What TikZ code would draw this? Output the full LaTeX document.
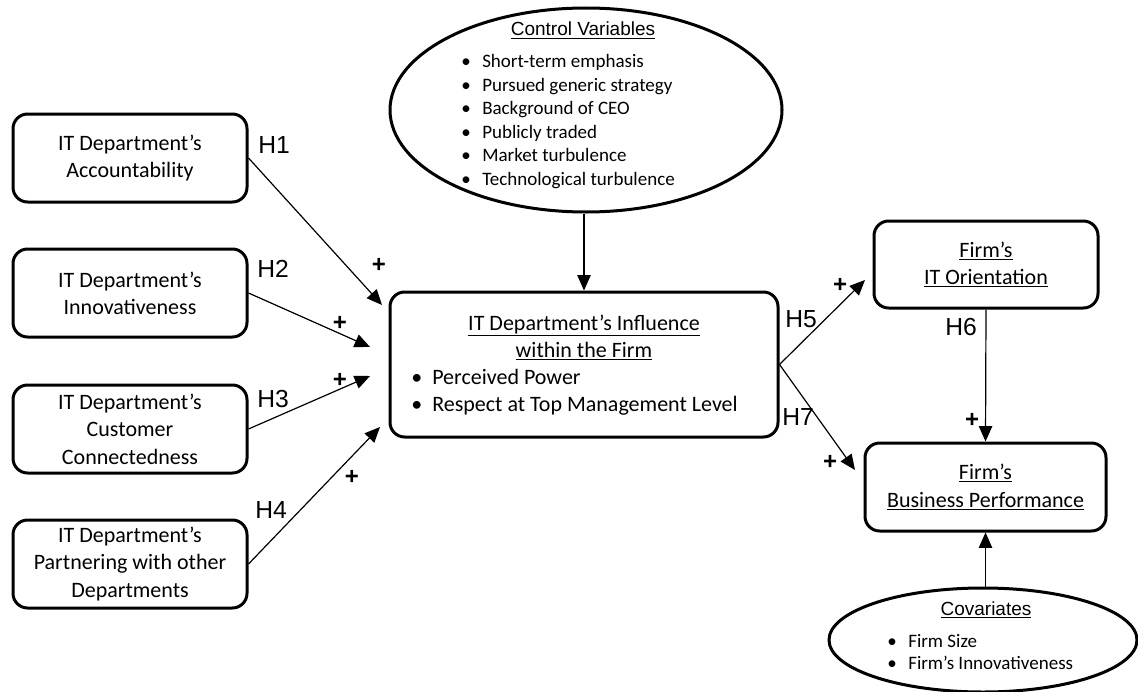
\documentclass[tikz,border=0pt]{standalone}
\usepackage{fontspec}
\setmainfont{Carlito}
\newfontfamily\arialfam{Liberation Sans}
\usetikzlibrary{shapes.geometric,arrows.meta}

% font sizes (one unit of the picture = 0.75pt)
\newcommand\cfBox{\fontsize{16.5pt}{20.5pt}\selectfont}
\newcommand\cfItem{\fontsize{14.25pt}{17.5pt}\selectfont}
\newcommand\cfHead{\arialfam\fontsize{14.25pt}{17.5pt}\selectfont}
\newcommand\cfH{\arialfam\fontsize{18.5pt}{22pt}\selectfont}
\newcommand\cfPlus{\arialfam\bfseries\fontsize{18pt}{22pt}\selectfont}

\begin{document}
\begin{tikzpicture}[x=0.75pt,y=-0.75pt,
  box/.style={draw, line width=2.25pt, rounded corners=11pt, align=center,
              font=\cfBox, inner sep=0pt},
  oval/.style={draw, ellipse, line width=2.25pt, inner sep=0pt},
  arr/.style={line width=0.9pt, -{Triangle[length=11.5pt,width=10pt]}},
  hlab/.style={font=\cfH, anchor=base west, inner sep=0pt},
  pluslab/.style={font=\cfPlus, inner sep=0pt},
  txt/.style={font=\cfBox, inner sep=0pt},
  itm/.style={font=\cfItem, anchor=base west, inner sep=0pt},
  head/.style={font=\cfHead, anchor=base, inner sep=0pt}]

\useasboundingbox (0,0) rectangle (1138,692);

% antecedents
\node[box, minimum width=175.5pt, minimum height=66pt] (acc) at (130,158)
  {IT Department’s\\Accountability};
\node[box, minimum width=175.5pt, minimum height=66pt] (inn) at (130,293)
  {IT Department’s\\Innovativeness};
\node[box, minimum width=175.5pt, minimum height=66pt] (cus) at (130,429)
  {IT Department’s\\Customer\\Connectedness};
\node[box, minimum width=175.5pt, minimum height=66pt] (par) at (130,564)
  {IT Department’s\\Partnering with other\\Departments};

% central construct
\node[box, minimum width=291pt, minimum height=108.75pt] (infl) at (584,364.5) {};
\node[txt, anchor=base] (inflA) at (584,330) {\underline{IT Department’s Influence}};
\node[txt, anchor=base] (inflB) at (584,357.5) {\underline{within the Firm}};
\node[txt, anchor=base west] (inflC) at (411,384) {•};
\node[txt, anchor=base west] (inflD) at (432,384) {Perceived Power};
\node[txt, anchor=base west] (inflE) at (411,411.5) {•};
\node[txt, anchor=base west] (inflF) at (432,411.5) {Respect at Top Management Level};

% outcomes
\node[box, minimum width=168pt, minimum height=65.25pt] (itor) at (986,264.5)
  {\underline{Firm’s}\\\underline{IT Orientation}};
\node[box, minimum width=180.75pt, minimum height=66pt] (bp) at (985.5,487)
  {\underline{Firm’s}\\\underline{Business Performance}};

% control variables
\node[oval, minimum width=294pt, minimum height=153pt] (ctrl) at (586,110) {};
\node[head] (ctrlT) at (583,36) {\underline{Control Variables}};
\foreach \t [count=\i] in {Short-term emphasis, Pursued generic strategy,
    Background of CEO, Publicly traded, Market turbulence, Technological turbulence} {
  \node[itm] (cvb\i) at (461,{68+23.4*(\i-1)}) {•};
  \node[itm] (cvt\i) at (482,{68+23.4*(\i-1)}) {\t};
}

% covariates
\node[oval, minimum width=231pt, minimum height=78pt] (cov) at (983,640) {};
\node[head] (covT) at (986,615) {\underline{Covariates}};
\node[itm] (cob1) at (887,647) {•};
\node[itm] (cot1) at (908,647) {Firm Size};
\node[itm] (cob2) at (887,669) {•};
\node[itm] (cot2) at (908,669) {Firm’s Innovativeness};

% arrow tips that stop short of the boxes
\coordinate (t1) at (382,305);
\coordinate (t2) at (370,347);
\coordinate (t3) at (370,376);
\coordinate (t4) at (380,427);
\coordinate (t5) at (865,280);
\coordinate (t7) at (855,470);

% paths
\draw[arr] (acc.east) -- (t1);
\draw[arr] (inn.east) -- (t2);
\draw[arr] (cus.east) -- (t3);
\draw[arr] (par.east) -- (t4);
\draw[arr] (infl.east) -- (t5);
\draw[arr] (infl.east) -- (t7);
\draw[arr] (itor.south) -- (bp.north);
\draw[arr] (infl.north |- ctrl.south) -- (infl.north);
\draw[arr] (bp.south |- cov.north) -- (bp.south);

% hypothesis labels
\node[hlab] (h1) at (258,153) {H1};
\node[hlab] (h2) at (257,277) {H2};
\node[hlab] (h3) at (257,407) {H3};
\node[hlab] (h4) at (255,518) {H4};
\node[hlab] (h5) at (785,327) {H5};
\node[hlab] (h6) at (945,335) {H6};
\node[hlab] (h7) at (782,425) {H7};

% signs
\node[pluslab] (p1) at (379,265) {+};
\node[pluslab] (p2) at (340,323) {+};
\node[pluslab] (p3) at (340,380) {+};
\node[pluslab] (p4) at (352,477) {+};
\node[pluslab] (p5) at (840,285) {+};
\node[pluslab] (p6) at (972,420) {+};
\node[pluslab] (p7) at (830,462) {+};
\end{tikzpicture}
\end{document}
